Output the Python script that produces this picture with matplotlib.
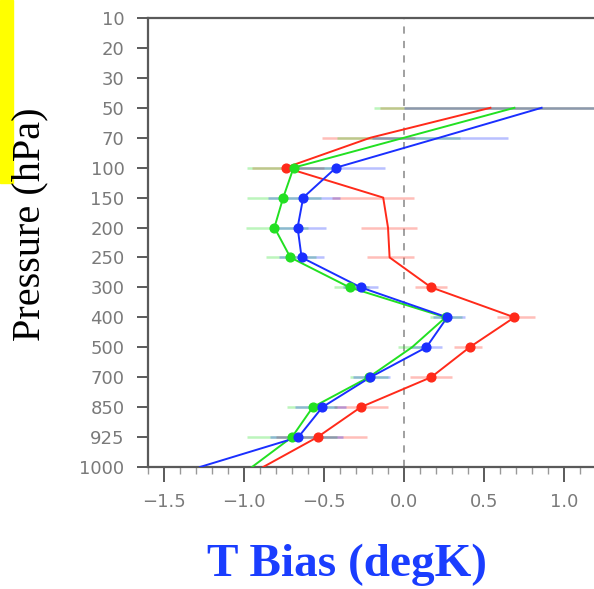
import matplotlib
matplotlib.use('Agg')
import matplotlib.pyplot as plt
import numpy as np
from matplotlib.patches import Rectangle
from matplotlib.ticker import MultipleLocator

nan = np.nan

# pressure levels (hPa), drawn evenly spaced top to bottom
levels = ['10', '20', '30', '50', '70', '100', '150', '200', '250', '300',
          '400', '500', '700', '850', '925', '1000']

# mean T bias per level
red = [nan, nan, nan, 0.54, -0.21, -0.74, -0.13, -0.10, -0.09, 0.17, 0.69,
       0.41, 0.17, -0.27, -0.54, -0.88]
green = [nan, nan, nan, 0.69, 0.0, -0.69, -0.755, -0.81, -0.71, -0.34, 0.26,
         0.05, -0.22, -0.57, -0.70, -0.95]
blue = [nan, nan, nan, 0.86, 0.22, -0.425, -0.63, -0.665, -0.64, -0.27, 0.27,
        0.14, -0.21, -0.51, -0.66, -1.275]

# which levels get a dot
red_dots = [0, 0, 0, 0, 0, 1, 0, 0, 0, 1, 1, 1, 1, 1, 1, 0]
green_dots = [0, 0, 0, 0, 0, 1, 1, 1, 1, 1, 1, 0, 1, 1, 1, 0]
blue_dots = [0, 0, 0, 0, 0, 1, 1, 1, 1, 1, 1, 1, 1, 1, 1, 0]

# confidence ranges (low, high)
red_lo = [nan, nan, nan, -0.15, -0.51, -0.95, -0.45, -0.27, -0.23, 0.07, 0.58,
          0.31, 0.04, -0.44, -0.80, nan]
red_hi = [nan, nan, nan, 1.5, 0.07, -0.50, 0.06, 0.08, 0.06, 0.27, 0.82,
          0.49, 0.30, -0.10, -0.23, nan]
green_lo = [nan, nan, nan, -0.19, -0.42, -0.98, -0.98, -0.99, -0.86, -0.44, 0.16,
            -0.04, -0.34, -0.73, -0.98, nan]
green_hi = [nan, nan, nan, 1.5, 0.35, -0.45, -0.52, -0.60, -0.55, -0.22, 0.36,
            0.14, -0.10, -0.42, -0.42, nan]
blue_lo = [nan, nan, nan, 0.0, -0.20, -0.75, -0.85, -0.83, -0.78, -0.38, 0.18,
           0.04, -0.32, -0.68, -0.84, nan]
blue_hi = [nan, nan, nan, 1.5, 0.65, -0.12, -0.40, -0.49, -0.50, -0.16, 0.38,
           0.24, -0.09, -0.36, -0.38, nan]

xticks = [-1.5, -1.0, -0.5, 0.0, 0.5, 1.0]
xticklabels = ['\u22121.5', '\u22121.0', '\u22120.5', '0.0', '0.5', '1.0']

fig = plt.figure(figsize=(5.94, 5.89), dpi=100)
ax = fig.add_axes([148 / 594, 122 / 589, 512 / 594, 449 / 589])

y = np.arange(len(levels))
series = [
    ('#ff2a1a', red, red_dots, red_lo, red_hi),
    ('#22e022', green, green_dots, green_lo, green_hi),
    ('#1a2fff', blue, blue_dots, blue_lo, blue_hi),
]

ax.axvline(0, color='#999999', lw=1.3, ls=(0, (4, 4)), zorder=1)

for col, vals, dots, lo, hi in series:
    ax.hlines(y, lo, hi, color=col, lw=1.8, alpha=0.3, zorder=2)
for col, vals, dots, lo, hi in series:
    vals = np.array(vals)
    ax.plot(vals, y, color=col, lw=1.4, zorder=3)
    m = np.array(dots, dtype=bool)
    ax.plot(vals[m], y[m], 'o', color=col, ms=6.3, zorder=4)

ax.set_xlim(-1.6, 1.6)
ax.set_ylim(len(levels) - 1, 0)
ax.set_yticks(y)
ax.set_yticklabels(levels)
ax.set_xticks(xticks)
ax.set_xticklabels(xticklabels)
ax.xaxis.set_minor_locator(MultipleLocator(0.1))

for s in ['left', 'bottom', 'top']:
    ax.spines[s].set_color('#5a5a5a')
    ax.spines[s].set_linewidth(1.6)
ax.spines['right'].set_visible(False)

ax.tick_params(axis='y', direction='out', length=8, width=1.4, color='#5a5a5a',
               labelsize=13, labelcolor='#7a7a7a', pad=9)
ax.tick_params(axis='x', which='major', direction='out', length=11, width=1.4,
               color='#5a5a5a', labelsize=13, labelcolor='#7a7a7a', pad=8)
ax.tick_params(axis='x', which='minor', direction='out', length=5, width=1.0,
               color='#999999')

fig.patches.append(Rectangle((0, 406 / 589), 13 / 594, 183 / 589,
                             transform=fig.transFigure, color='#ffff00', zorder=0))

fig.text(30 / 594, 0.62, 'Pressure (hPa)', rotation=90, ha='center', va='center',
         family='Liberation Serif', fontsize=29, color='black')
fig.text(347 / 594, 0.022, 'T Bias (degK)', ha='center', va='baseline',
         family='Liberation Serif', fontweight='bold', fontsize=34, color='#1a3dff')

fig.savefig('out.png', dpi=100)
